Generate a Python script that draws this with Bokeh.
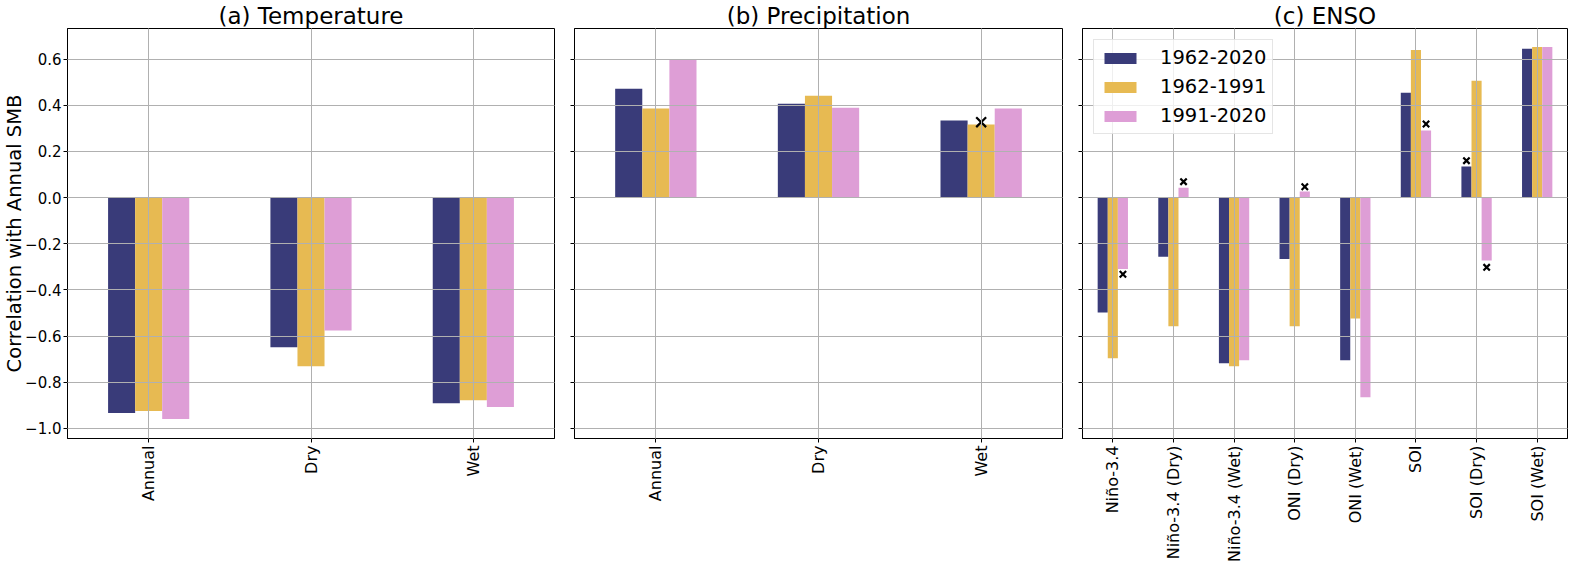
import math
from bokeh.plotting import figure
from bokeh.models import (ColumnDataSource, FactorRange, Range1d, FixedTicker,
                          CustomJSTickFormatter, Legend, LegendItem)
from bokeh.transform import dodge
from bokeh.layouts import row
from bokeh.embed import file_html
from bokeh.resources import INLINE

# ---------------- data ----------------
periods = ["1962-2020", "1962-1991", "1991-2020"]
colors = ["#393b79", "#e7ba52", "#de9ed6"]

temp_cats = ["Annual", "Dry", "Wet"]
temp_1962_2020 = [-0.934, -0.649, -0.891]
temp_1962_1991 = [-0.925, -0.731, -0.878]
temp_1991_2020 = [-0.960, -0.576, -0.908]

prec_cats = ["Annual", "Dry", "Wet"]
prec_1962_2020 = [0.472, 0.407, 0.334]
prec_1962_1991 = [0.386, 0.442, 0.317]
prec_1991_2020 = [0.600, 0.390, 0.386]

enso_cats = ["Niño-3.4", "Niño-3.4 (Dry)", "Niño-3.4 (Wet)", "ONI (Dry)",
             "ONI (Wet)", "SOI", "SOI (Dry)", "SOI (Wet)"]
enso_1962_2020 = [-0.498, -0.256, -0.718, -0.266, -0.705, 0.455, 0.135, 0.645]
enso_1962_1991 = [-0.696, -0.558, -0.731, -0.558, -0.524, 0.640, 0.506, 0.653]
enso_1991_2020 = [-0.309, 0.043, -0.705, 0.027, -0.865, 0.291, -0.273, 0.653]

# significance ("x") markers
temp_mark_cat, temp_mark_period, temp_mark_y = [], [], []
prec_mark_cat = ["Wet"]
prec_mark_period = ["1962-1991"]
prec_mark_y = [0.327]
enso_mark_cat = ["Niño-3.4", "Niño-3.4 (Dry)", "ONI (Dry)", "SOI", "SOI (Dry)", "SOI (Dry)"]
enso_mark_period = ["1991-2020", "1991-2020", "1991-2020", "1991-2020", "1962-2020", "1991-2020"]
enso_mark_y = [-0.332, 0.069, 0.047, 0.319, 0.160, -0.302]

titles = ["(a) Temperature", "(b) Precipitation", "(c) ENSO"]
y_label = "Correlation with Annual SMB"
y_ticks = [-1.0, -0.8, -0.6, -0.4, -0.2, 0.0, 0.2, 0.4, 0.6]
y_min, y_max = -1.044, 0.733

# ---------------- styling ----------------
FONT = "DejaVu Sans"
GRID = "#b0b0b0"
FRAME_H = 410
BAR_W = 0.5 / 3
yr = Range1d(y_min, y_max)


def make_panel(title, cats, series, mcat, mper, my, msize, frame_w,
               left, right, first=False, legend=False):
    p = figure(x_range=FactorRange(factors=cats, range_padding=0), y_range=yr,
               frame_width=frame_w, frame_height=FRAME_H,
               min_border_left=left, min_border_right=right,
               min_border_top=0, min_border_bottom=124,
               output_backend="svg", toolbar_location=None, title=title)
    p.title.text_font = FONT
    p.title.text_font_size = "23px"
    p.title.text_font_style = "normal"
    p.title.text_color = "black"
    p.title.align = "center"
    p.title.standoff = 0
    p.title.offset = 0

    p.background_fill_color = "white"
    p.border_fill_color = "white"
    p.outline_line_color = "black"
    p.outline_line_width = 1

    src = ColumnDataSource(dict(cat=cats, s0=series[0], s1=series[1], s2=series[2]))
    rends = []
    for i, col in enumerate(["s0", "s1", "s2"]):
        r = p.vbar(x=dodge("cat", (i - 1) * BAR_W, range=p.x_range), top=col,
                   bottom=0, width=BAR_W, source=src, fill_color=colors[i],
                   line_color=None)
        rends.append(r)

    # markers, grouped by period so they sit on their bar
    for i, per in enumerate(periods):
        idx = [k for k, pp in enumerate(mper) if pp == per]
        if not idx:
            continue
        msrc = ColumnDataSource(dict(cat=[mcat[k] for k in idx], y=[my[k] for k in idx]))
        p.scatter(x=dodge("cat", (i - 1) * BAR_W, range=p.x_range), y="y",
                  source=msrc, marker="x", size=msize, line_color="black",
                  line_width=2.2)

    # grid
    for g in (p.xgrid, p.ygrid):
        g.grid_line_color = GRID
        g.grid_line_width = 1
        g.level = "guide"
    p.ygrid.ticker = FixedTicker(ticks=y_ticks)

    # axes
    p.yaxis.ticker = FixedTicker(ticks=y_ticks)
    p.yaxis.formatter = CustomJSTickFormatter(
        code="return tick.toFixed(1).replace('-', '\u2212');")
    for ax in (p.xaxis, p.yaxis):
        ax.axis_line_color = "black"
        ax.major_tick_line_color = "black"
        ax.major_tick_out = 4
        ax.major_tick_in = 0
        ax.minor_tick_line_color = None
        ax.major_label_text_font = FONT
        ax.major_label_text_color = "black"
    p.xaxis.major_label_orientation = math.pi / 2
    p.xaxis.major_label_text_font_size = "16px"
    p.xaxis.major_label_standoff = 3
    if first:
        p.yaxis.major_label_text_font_size = "15px"
        p.yaxis.major_label_standoff = 2
        p.yaxis.axis_label = y_label
        p.yaxis.axis_label_text_font = FONT
        p.yaxis.axis_label_text_font_size = "19.5px"
        p.yaxis.axis_label_text_font_style = "normal"
        p.yaxis.axis_label_text_color = "black"
        p.yaxis.axis_label_standoff = -4
    else:
        # shared y axis: ticks only, no tick labels
        p.yaxis.major_label_text_font_size = "1px"
        p.yaxis.major_label_text_color = None
        p.yaxis.major_label_standoff = 0

    if legend:
        lg = Legend(items=[LegendItem(label=periods[i], renderers=[rends[i]])
                           for i in range(3)],
                    location="top_left", margin=11, padding=6, spacing=6,
                    glyph_width=40, glyph_height=14, label_standoff=20,
                    label_height=23, label_text_font=FONT,
                    label_text_font_size="19.5px", label_text_color="black",
                    border_line_color="#cccccc", border_line_width=1,
                    background_fill_color="white", background_fill_alpha=0.8)
        p.add_layout(lg)
    return p


pa = make_panel(titles[0], temp_cats, [temp_1962_2020, temp_1962_1991, temp_1991_2020],
                temp_mark_cat, temp_mark_period, temp_mark_y, 12, 487, 62, 10, first=True)
pb = make_panel(titles[1], prec_cats, [prec_1962_2020, prec_1962_1991, prec_1991_2020],
                prec_mark_cat, prec_mark_period, prec_mark_y, 14, 488, 10, 10)
pc = make_panel(titles[2], enso_cats, [enso_1962_2020, enso_1962_1991, enso_1991_2020],
                enso_mark_cat, enso_mark_period, enso_mark_y, 9, 485, 10, 2, legend=True)

layout = row(pa, pb, pc, spacing=0)
open("out.html", "w").write(file_html(layout, INLINE))
